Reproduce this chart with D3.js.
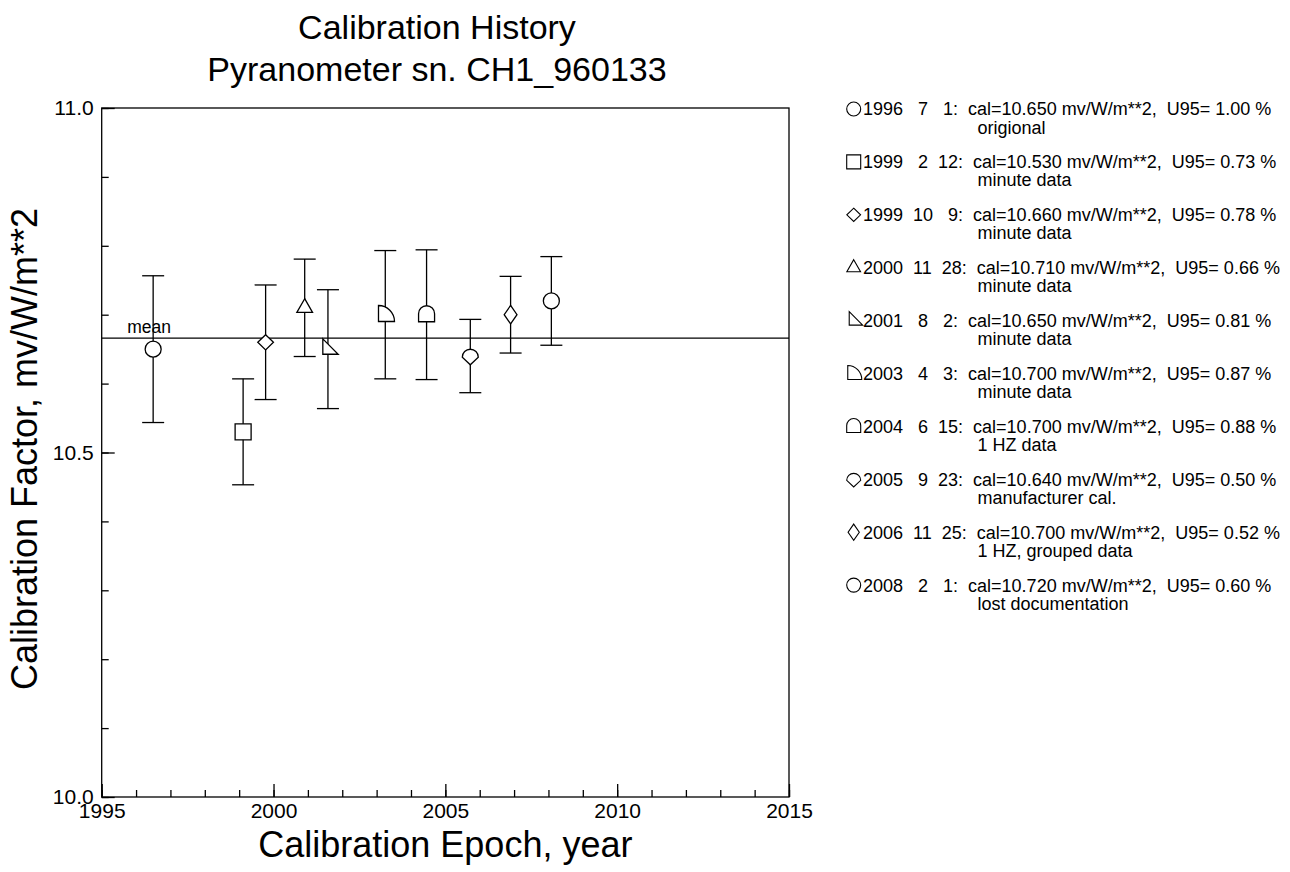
<!DOCTYPE html>
<html>
<head>
<meta charset="utf-8">
<script src="https://cdn.jsdelivr.net/npm/d3@7/dist/d3.min.js"></script>
<style>
  html, body { margin: 0; padding: 0; background: #fff; }
  svg { display: block; font-family: "Liberation Sans", Arial, Helvetica, sans-serif; }
  .legend text { white-space: pre; }
</style>
</head>
<body>
<svg id="chart" width="1290" height="872"></svg>
<script>
// Calibration records for pyranometer CH1_960133
const years    = [1996, 1999, 1999, 2000, 2001, 2003, 2004, 2005, 2006, 2008];
const months   = [7, 2, 10, 11, 8, 4, 6, 9, 11, 2];
const days     = [1, 12, 9, 28, 2, 3, 15, 23, 25, 1];
const calValues = [10.650, 10.530, 10.660, 10.710, 10.650, 10.700, 10.700, 10.640, 10.700, 10.720];
const u95Percent = [1.00, 0.73, 0.78, 0.66, 0.81, 0.87, 0.88, 0.50, 0.52, 0.60];
const notes = ["origional", "minute data", "minute data", "minute data", "minute data",
               "minute data", "1 HZ data", "manufacturer cal.", "1 HZ, grouped data", "lost documentation"];
const markerShapes = ["circle", "square", "diamond", "triangle", "rightTriangle",
                      "quarterRound", "arch", "drop", "thinDiamond", "circle"];

const xTickValues = [1995, 2000, 2005, 2010, 2015];
const xMinorTicks = d3.range(1995, 2016, 1);
const yTickValues = [10.0, 10.5, 11.0];
const yMinorTicks = d3.range(0, 11).map(i => 10 + i / 10);

const titleLines = ["Calibration History", "Pyranometer sn. CH1_960133"];
const xAxisTitle = "Calibration Epoch, year";
const yAxisTitle = "Calibration Factor, mv/W/m**2";

// Layout
const plot = { left: 101.7, right: 789, top: 108, bottom: 797 };
const svg = d3.select("#chart");

const x = d3.scaleLinear().domain([1995, 2015]).range([plot.left, plot.right]);
const y = d3.scaleLinear().domain([10, 11]).range([plot.bottom, plot.top]);

// Decimal year from calendar date
function decimalYear(yr, mo, dy) {
  const start = Date.UTC(yr, 0, 1), end = Date.UTC(yr + 1, 0, 1);
  return yr + (Date.UTC(yr, mo - 1, dy) - start) / (end - start);
}

const records = years.map((yr, i) => ({
  t: decimalYear(yr, months[i], days[i]),
  yr, mo: months[i], dy: days[i],
  cal: calValues[i],
  u95: u95Percent[i],
  err: calValues[i] * u95Percent[i] / 100,
  note: notes[i],
  shape: markerShapes[i]
}));

// Marker outlines around their centroid; s is the half-size
function markerPath(shape, s) {
  const p = d3.path();
  switch (shape) {
    case "circle":
      p.moveTo(s, 0); p.arc(0, 0, s, 0, 2 * Math.PI); break;
    case "square":
      p.rect(-s, -s, 2 * s, 2 * s); break;
    case "diamond":
      p.moveTo(0, -0.95 * s); p.lineTo(0.98 * s, 0); p.lineTo(0, 0.95 * s); p.lineTo(-0.98 * s, 0); p.closePath(); break;
    case "thinDiamond":
      p.moveTo(0, -1.16 * s); p.lineTo(0.8 * s, 0); p.lineTo(0, 1.16 * s); p.lineTo(-0.8 * s, 0); p.closePath(); break;
    case "triangle": {
      const h = 1.71 * s, w = 0.98 * s;
      p.moveTo(0, -2 * h / 3); p.lineTo(w, h / 3); p.lineTo(-w, h / 3); p.closePath(); break;
    }
    case "rightTriangle": {
      const a = 1.92 * s;
      p.moveTo(-a / 3, -2 * a / 3); p.lineTo(2 * a / 3, a / 3); p.lineTo(-a / 3, a / 3); p.closePath(); break;
    }
    case "quarterRound": {
      const R = 2 * s, c = 4 * R / (3 * Math.PI);
      p.moveTo(-c, c); p.lineTo(-c, c - R); p.arc(-c, c, R, -Math.PI / 2, 0); p.closePath(); break;
    }
    case "arch":
      p.moveTo(-s, 0.88 * s); p.lineTo(-s, -0.12 * s);
      p.arc(0, -0.12 * s, s, Math.PI, 2 * Math.PI); p.lineTo(s, 0.88 * s); p.closePath(); break;
    case "drop":
      p.moveTo(-s, 0.15 * s); p.arc(0, 0.15 * s, s, Math.PI, 2 * Math.PI);
      p.lineTo(0, 1.1 * s); p.closePath(); break;
  }
  return p.toString();
}

const ink = "#000";
const lw = 1.3;
const fontStack = "'Liberation Sans', Arial, Helvetica, sans-serif";

// Titles
svg.append("g").selectAll("text").data(titleLines).join("text")
  .attr("x", 437).attr("y", (d, i) => 39 + i * 42)
  .attr("text-anchor", "middle").attr("font-size", 34).attr("fill", ink)
  .text(d => d);

// Axes (ticks point inward)
const yAxisMinor = d3.axisLeft(y).tickValues(yMinorTicks).tickSize(-7).tickFormat("");
const yAxisMajor = d3.axisLeft(y).tickValues(yTickValues).tickSize(-13).tickPadding(8).tickFormat(d3.format(".1f"));
const xAxisMinor = d3.axisBottom(x).tickValues(xMinorTicks).tickSize(-7).tickFormat("");
const xAxisMajor = d3.axisBottom(x).tickValues(xTickValues).tickSize(-13).tickPadding(6).tickFormat(d3.format("d"));

function styleAxis(g, fs) {
  g.select(".domain").remove();
  g.selectAll("line").attr("stroke", ink).attr("stroke-width", lw);
  g.selectAll("text").attr("font-size", fs).attr("fill", ink).attr("font-family", fontStack);
}

svg.append("g").attr("transform", `translate(${plot.left},0)`).call(yAxisMinor).call(g => styleAxis(g, 21));
svg.append("g").attr("transform", `translate(${plot.left},0)`).call(yAxisMajor).call(g => styleAxis(g, 21));
svg.append("g").attr("transform", `translate(0,${plot.bottom})`).call(xAxisMinor).call(g => styleAxis(g, 21));
svg.append("g").attr("transform", `translate(0,${plot.bottom})`).call(xAxisMajor).call(g => styleAxis(g, 21));

// Frame
svg.append("rect")
  .attr("x", plot.left).attr("y", plot.top)
  .attr("width", plot.right - plot.left).attr("height", plot.bottom - plot.top)
  .attr("fill", "none").attr("stroke", ink).attr("stroke-width", lw);

// Axis titles
svg.append("text")
  .attr("x", (plot.left + plot.right) / 2).attr("y", 857)
  .attr("text-anchor", "middle").attr("font-size", 36).attr("fill", ink)
  .text(xAxisTitle);
svg.append("text")
  .attr("transform", `translate(37,449) rotate(-90)`)
  .attr("text-anchor", "middle").attr("font-size", 36).attr("fill", ink)
  .text(yAxisTitle);

// Mean line
const meanCal = d3.mean(calValues);
svg.append("line")
  .attr("x1", plot.left).attr("x2", plot.right)
  .attr("y1", y(meanCal)).attr("y2", y(meanCal))
  .attr("stroke", ink).attr("stroke-width", lw);
svg.append("text")
  .attr("x", x(1996.38)).attr("y", y(meanCal) - 5)
  .attr("text-anchor", "middle").attr("font-size", 17.5).attr("fill", ink)
  .text("mean");

// Error bars
const capHalf = 11;
const eb = svg.append("g").attr("stroke", ink).attr("stroke-width", lw);
records.forEach(r => {
  const cx = x(r.t), y0 = y(r.cal - r.err), y1 = y(r.cal + r.err);
  eb.append("line").attr("x1", cx).attr("x2", cx).attr("y1", y0).attr("y2", y1);
  eb.append("line").attr("x1", cx - capHalf).attr("x2", cx + capHalf).attr("y1", y0).attr("y2", y0);
  eb.append("line").attr("x1", cx - capHalf).attr("x2", cx + capHalf).attr("y1", y1).attr("y2", y1);
});

// Markers
svg.append("g").selectAll("path").data(records).join("path")
  .attr("transform", r => `translate(${x(r.t)},${y(r.cal)})`)
  .attr("d", r => markerPath(r.shape, 8))
  .attr("fill", "#fff").attr("stroke", ink).attr("stroke-width", lw);

// Legend: one entry per calibration, fixed-width date fields
const legend = svg.append("g").attr("class", "legend");
const rowY0 = 109, rowStep = 52.9, legendFont = 18;
const pad = (v, w) => String(v).padStart(w, " ");
records.forEach((r, i) => {
  const cy = rowY0 + i * rowStep;
  legend.append("path")
    .attr("transform", `translate(853.7,${cy})`)
    .attr("d", markerPath(r.shape, 7))
    .attr("fill", "none").attr("stroke", ink).attr("stroke-width", 1.1);
  legend.append("text")
    .attr("x", 863).attr("y", cy + 6.4)
    .attr("font-size", legendFont).attr("fill", ink).attr("xml:space", "preserve")
    .text(`${r.yr}${pad(r.mo, 4)}${pad(r.dy, 4)}:  cal=${r.cal.toFixed(3)} mv/W/m**2,  U95=${pad(r.u95.toFixed(2), 5)} %`);
  legend.append("text")
    .attr("x", 977.5).attr("y", cy + 24.5)
    .attr("font-size", legendFont).attr("fill", ink)
    .text(r.note);
});
</script>
</body>
</html>
